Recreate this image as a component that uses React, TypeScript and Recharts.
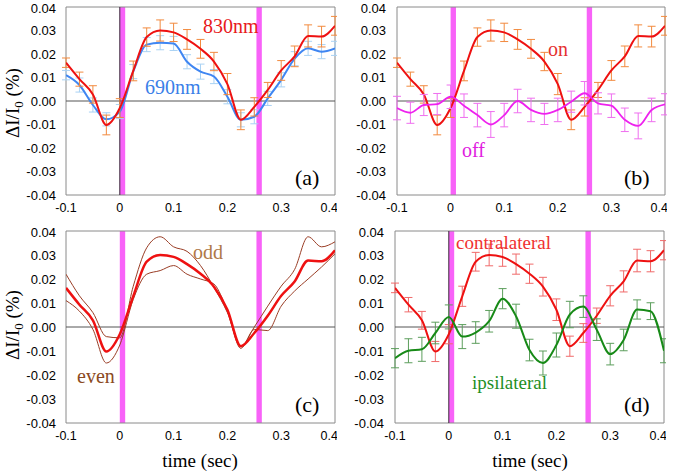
import React from 'react'
import { ComposedChart, Line, XAxis, YAxis, ReferenceArea, ReferenceLine, ErrorBar } from 'recharts'

// sample times (sec)
const times = [-0.1, -0.075, -0.05, -0.025, 0, 0.025, 0.05, 0.075, 0.1, 0.125, 0.15, 0.175, 0.2, 0.225, 0.25, 0.275, 0.3, 0.325, 0.35, 0.375, 0.4]

// 830nm / on / contralateral response
const redSignal = [0.0163, 0.0093, 0.0028, -0.0102, -0.003, 0.0128, 0.0272, 0.03, 0.0292, 0.0262, 0.0222, 0.0168, 0.0072, -0.008, -0.0025, 0.0047, 0.013, 0.019, 0.0277, 0.0274, 0.032]
const redErr = [0.002, 0.003, 0.0037, 0.0042, 0.004, 0.0042, 0.0039, 0.0045, 0.0039, 0.0042, 0.004, 0.0039, 0.0045, 0.0042, 0.0039, 0.0032, 0.0042, 0.0044, 0.0047, 0.0044, 0.004]

// 690nm
const blue690 = [0.011, 0.0068, -0.0017, -0.0078, -0.0045, 0.0125, 0.024, 0.0248, 0.0245, 0.0167, 0.0125, 0.0104, 0.0018, -0.008, -0.0067, 0.0011, 0.009, 0.018, 0.0224, 0.021, 0.0224]
const blueErr = [0.002, 0.003, 0.003, 0.0028, 0.003, 0.003, 0.003, 0.003, 0.003, 0.003, 0.0032, 0.003, 0.003, 0.003, 0.003, 0.003, 0.003, 0.003, 0.003, 0.003, 0.003]

// off
const offSignal = [-0.003, -0.005, -0.0017, -0.0013, 0.0018, -0.002, -0.006, -0.01, -0.006, 0.0, -0.0038, -0.0055, -0.0038, -0.0003, 0.0033, -0.001, -0.002, -0.008, -0.0106, -0.0038, -0.0014]
const offErr = [0.005, 0.0045, 0.0045, 0.0045, 0.005, 0.005, 0.005, 0.0055, 0.005, 0.005, 0.005, 0.0045, 0.005, 0.0045, 0.005, 0.0045, 0.005, 0.005, 0.0055, 0.005, 0.0045]

// odd / even trials
const oddSignal = [0.022, 0.013, 0.006, -0.004, -0.0045, 0.017, 0.033, 0.0376, 0.0334, 0.0315, 0.0256, 0.0165, 0.006, -0.008, 0.0, 0.0087, 0.017, 0.024, 0.0376, 0.0334, 0.0355]
const evenSignal = [0.011, 0.0066, -0.001, -0.015, -0.0075, 0.0115, 0.022, 0.0235, 0.0256, 0.022, 0.02, 0.0179, 0.0066, -0.0089, -0.001, -0.0015, 0.0087, 0.015, 0.02, 0.025, 0.0305]

// ipsilateral
const ipsiSignal = [-0.013, -0.0099, -0.0093, -0.0025, 0.0042, -0.004, -0.0023, 0.0024, 0.0118, 0.0045, -0.0096, -0.015, -0.0075, 0.0052, 0.0085, -0.0011, -0.0113, -0.0054, 0.0073, 0.0066, -0.0099]
const ipsiErr = [0.004, 0.005, 0.005, 0.0045, 0.005, 0.005, 0.0045, 0.0045, 0.0042, 0.005, 0.0045, 0.005, 0.005, 0.0055, 0.0045, 0.0045, 0.0045, 0.0045, 0.004, 0.0035, 0.005]

const xTicks = [-0.1, 0, 0.1, 0.2, 0.3, 0.4]
const yTicks = [-0.04, -0.03, -0.02, -0.01, 0, 0.01, 0.02, 0.03, 0.04]
const stimOn = [0, 0.01]
const stimOff = [0.254, 0.264]

const rows = times.map((t, i) => ({
  t,
  red: redSignal[i],
  redErr: redErr[i],
  blue: blue690[i],
  blueErr: blueErr[i],
  off: offSignal[i],
  offErr: offErr[i],
  odd: oddSignal[i],
  even: evenSignal[i],
  ipsi: ipsiSignal[i],
  ipsiErr: ipsiErr[i],
}))

const sans = '"Liberation Sans", Arial, sans-serif'
const xTickStyle = { fill: '#000', fontSize: 12.5, fontFamily: sans }
const yTickStyle = { fill: '#000', fontSize: 13, fontFamily: sans }
const serif = '"Liberation Serif", "Times New Roman", serif'

function Panel({ left, top, width, height, yWidth, xHeight, bottom, tickGap, zeroV, children }: any) {
  return (
    <div style={{ position: 'absolute', left, top }}>
      <ComposedChart width={width} height={height} data={rows} margin={{ top: 7, right: 2, bottom, left: 0 }}>
        <XAxis dataKey="t" type="number" domain={[-0.1, 0.4]} ticks={xTicks} axisLine={false} tickLine={false}
          tickSize={0} tickMargin={8} height={xHeight} tick={xTickStyle} allowDataOverflow />
        <YAxis type="number" domain={[-0.04, 0.04]} ticks={yTicks} tickFormatter={(v: number) => v.toFixed(2)}
          width={yWidth} axisLine={false} tickLine={false} tickSize={0} tickMargin={tickGap} tick={yTickStyle} allowDataOverflow />
        <ReferenceLine y={0} stroke="#555" strokeWidth={1} />
        {zeroV && <ReferenceLine x={0} stroke="#3a2a3a" strokeWidth={1} />}
        {children}
        <ReferenceArea x1={stimOn[0]} x2={stimOn[1]} fill="#f862f8" fillOpacity={1} />
        <ReferenceArea x1={stimOff[0]} x2={stimOff[1]} fill="#f862f8" fillOpacity={1} />
        <ReferenceArea x1={-0.1} x2={0.4} y1={-0.04} y2={0.04} fill="none" stroke="#8a8a8a" strokeWidth={1} />
      </ComposedChart>
    </div>
  )
}

function Note({ x, y, color, size = 20, children }: any) {
  return (
    <span style={{ position: 'absolute', left: x, top: y - size * 0.55, fontFamily: serif, fontSize: size, lineHeight: 1, color, whiteSpace: 'nowrap' }}>
      {children}
    </span>
  )
}

function YTitle({ y }: any) {
  return (
    <div style={{ position: 'absolute', left: 14, top: y, transform: 'translate(-50%, -50%) rotate(-90deg)', fontFamily: serif, fontSize: 19, whiteSpace: 'nowrap', lineHeight: 1 }}>
      ΔI/I<sub style={{ fontSize: 13 }}>0</sub> (%)
    </div>
  )
}

export default function App() {
  return (
    <div style={{ position: 'absolute', left: 0, top: 0, width: 675, height: 473, background: '#fff', overflow: 'hidden' }}>
      <Panel left={0} top={0} width={337} height={225} yWidth={66} xHeight={25} bottom={5} tickGap={10} zeroV>
        <Line dataKey="blue" type="monotone" stroke="#3f86f2" strokeWidth={2} dot={false} isAnimationActive={false}>
          <ErrorBar dataKey="blueErr" direction="y" width={4} stroke="#a9d2f4" strokeWidth={1} isAnimationActive={false} />
        </Line>
        <Line dataKey="red" type="monotone" stroke="#ee1111" strokeWidth={2} dot={false} isAnimationActive={false}>
          <ErrorBar dataKey="redErr" direction="y" width={4} stroke="#f28a3e" strokeWidth={1} isAnimationActive={false} />
        </Line>
      </Panel>
      <Panel left={337} top={0} width={330} height={225} yWidth={60} xHeight={25} bottom={5} tickGap={11}>
        <Line dataKey="red" type="monotone" stroke="#ee1111" strokeWidth={2} dot={false} isAnimationActive={false}>
          <ErrorBar dataKey="redErr" direction="y" width={4} stroke="#f28a3e" strokeWidth={1} isAnimationActive={false} />
        </Line>
        <Line dataKey="off" type="monotone" stroke="#ee22ee" strokeWidth={1.8} dot={false} isAnimationActive={false}>
          <ErrorBar dataKey="offErr" direction="y" width={4} stroke="#ef6fef" strokeWidth={1} isAnimationActive={false} />
        </Line>
      </Panel>
      <Panel left={0} top={224} width={337} height={249} yWidth={66} xHeight={50} bottom={0} tickGap={10}>
        <Line dataKey="odd" type="monotone" stroke="#9a3d25" strokeWidth={1} dot={false} isAnimationActive={false} />
        <Line dataKey="even" type="monotone" stroke="#9a3d25" strokeWidth={1} dot={false} isAnimationActive={false} />
        <Line dataKey="red" type="monotone" stroke="#ee1111" strokeWidth={2.5} dot={false} isAnimationActive={false} />
      </Panel>
      <Panel left={337} top={224} width={329} height={249} yWidth={58} xHeight={50} bottom={0} tickGap={11} zeroV>
        <Line dataKey="red" type="monotone" stroke="#ee1111" strokeWidth={2} dot={false} isAnimationActive={false}>
          <ErrorBar dataKey="redErr" direction="y" width={4} stroke="#f06a6a" strokeWidth={1} isAnimationActive={false} />
        </Line>
        <Line dataKey="ipsi" type="monotone" stroke="#178a17" strokeWidth={2} dot={false} isAnimationActive={false}>
          <ErrorBar dataKey="ipsiErr" direction="y" width={4} stroke="#5c9e5c" strokeWidth={1} isAnimationActive={false} />
        </Line>
      </Panel>

      <YTitle y={103} />
      <YTitle y={325} />
      <div style={{ position: 'absolute', left: 200, top: 460, transform: 'translate(-50%, -50%)', fontFamily: serif, fontSize: 19, lineHeight: 1, whiteSpace: 'nowrap' }}>time (sec)</div>
      <div style={{ position: 'absolute', left: 530, top: 460, transform: 'translate(-50%, -50%)', fontFamily: serif, fontSize: 19, lineHeight: 1, whiteSpace: 'nowrap' }}>time (sec)</div>

      <Note x={203} y={27} color="#e8191b">830nm</Note>
      <Note x={145} y={88} color="#3a7fe8">690nm</Note>
      <Note x={295} y={179} color="#000" size={22}>(a)</Note>
      <Note x={548} y={50} color="#e53030">on</Note>
      <Note x={462} y={151} color="#e020e0">off</Note>
      <Note x={624} y={179} color="#000" size={22}>(b)</Note>
      <Note x={193} y={253} color="#b07848">odd</Note>
      <Note x={77} y={377} color="#8b4a22">even</Note>
      <Note x={295} y={406} color="#000" size={22}>(c)</Note>
      <Note x={456} y={243} color="#f03030" size={19}>contralateral</Note>
      <Note x={472} y={383} color="#1f8f1f" size={19}>ipsilateral</Note>
      <Note x={624} y={406} color="#000" size={22}>(d)</Note>
    </div>
  )
}
